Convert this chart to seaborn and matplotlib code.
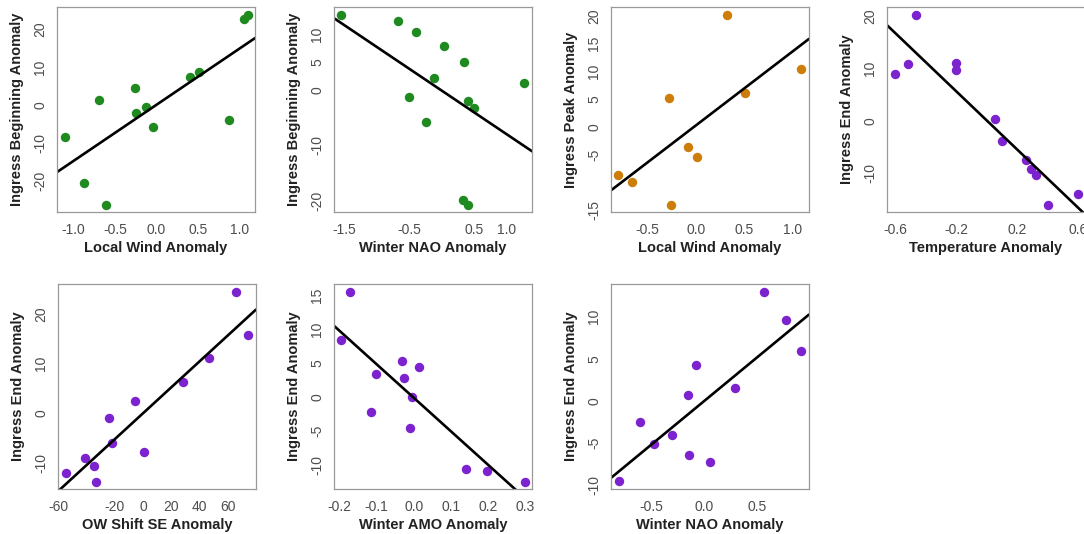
import matplotlib
matplotlib.use("Agg")
import matplotlib.pyplot as plt
import seaborn as sns

sns.set_style("white")
plt.rcParams["font.family"] = ["Liberation Sans", "DejaVu Sans"]

GREEN = "#1F8A1F"
ORANGE = "#CC7D0A"
PURPLE = "#7D22CF"

# Ingress beginning vs local wind
wind_begin_x = [-1.105, -0.879, -0.694, -0.605, -0.266, -0.246, -0.133, -0.044, 0.403, 0.512, 0.879, 1.052, 1.101]
wind_begin_y = [-8.4, -20.6, 1.3, -26.5, 4.4, -2.2, -0.6, -5.8, 7.5, 8.6, -4.0, 22.8, 23.9]

# Ingress beginning vs winter NAO
nao_begin_x = [-1.562, -0.676, -0.402, -0.510, -0.117, 0.034, -0.241, 0.350, 0.412, 0.510, 0.329, 0.412, 1.282]
nao_begin_y = [13.6, 12.5, 10.5, -1.2, 2.2, 7.9, -5.9, 5.1, -2.1, -3.2, -19.9, -20.8, 1.3]

# Ingress peak vs local wind
wind_peak_x = [-0.802, -0.660, -0.273, -0.256, -0.086, 0.014, 0.325, 0.508, 1.088]
wind_peak_y = [-8.7, -9.9, 5.2, -14.1, -3.7, -5.4, 20.2, 6.0, 10.5]

# Ingress end vs temperature
temp_end_x = [-0.607, -0.519, -0.464, -0.205, -0.205, 0.052, 0.100, 0.260, 0.293, 0.324, 0.400, 0.598]
temp_end_y = [8.9, 10.8, 20.2, 11.0, 9.6, 0.3, -3.9, -7.4, -9.2, -10.4, -16.1, -14.0]

# Ingress end vs OW shift SE
ow_end_x = [-54.8, -40.9, -34.7, -33.5, -23.9, -21.7, -5.9, 0.5, 28.3, 47.0, 65.9, 74.4]
ow_end_y = [-11.9, -9.0, -10.5, -13.7, -0.9, -5.9, 2.4, -7.8, 6.3, 11.1, 24.4, 15.8]

# Ingress end vs winter AMO
amo_end_x = [-0.196, -0.172, -0.116, -0.101, -0.032, -0.027, -0.010, -0.005, 0.013, 0.140, 0.196, 0.298]
amo_end_y = [8.4, 15.5, -2.1, 3.5, 5.4, 2.9, -4.5, 0.0, 4.4, -10.5, -10.9, -12.4]

# Ingress end vs winter NAO
nao_end_x = [-0.808, -0.610, -0.478, -0.305, -0.157, -0.142, -0.085, 0.050, 0.283, 0.560, 0.764, 0.912]
nao_end_y = [-9.6, -2.5, -5.1, -4.1, 0.7, -6.4, 4.2, -7.3, 1.5, 13.0, 9.6, 5.9]

panels = [
    dict(x=wind_begin_x, y=wind_begin_y, color=GREEN,
         xlabel="Local Wind Anomaly", ylabel="Ingress Beginning Anomaly",
         xlim=(-1.202, 1.189), ylim=(-28.3, 25.9),
         xticks=[-1.0, -0.5, 0.0, 0.5, 1.0], xtl=["-1.0", "-0.5", "0.0", "0.5", "1.0"],
         yticks=[-20, -10, 0, 10, 20], ytl=["-20", "-10", "0", "10", "20"],
         rect=(57, 7)),
    dict(x=nao_begin_x, y=nao_begin_y, color=GREEN,
         xlabel="Winter NAO Anomaly", ylabel="Ingress Beginning Anomaly",
         xlim=(-1.666, 1.401), ylim=(-22.1, 15.0),
         xticks=[-1.5, -1.0, -0.5, 0.0, 0.5, 1.0], xtl=["-1.5", "", "-0.5", "", "0.5", "1.0"],
         yticks=[-20, -15, -10, -5, 0, 5, 10], ytl=["-20", "", "-10", "", "0", "5", "10"],
         rect=(334, 7)),
    dict(x=wind_peak_x, y=wind_peak_y, color=ORANGE,
         xlabel="Local Wind Anomaly", ylabel="Ingress Peak Anomaly",
         xlim=(-0.878, 1.171), ylim=(-15.4, 21.6),
         xticks=[-0.5, 0.0, 0.5, 1.0], xtl=["-0.5", "0.0", "0.5", "1.0"],
         yticks=[-15, -10, -5, 0, 5, 10, 15, 20], ytl=["-15", "", "-5", "0", "5", "10", "15", "20"],
         rect=(611, 7)),
    dict(x=temp_end_x, y=temp_end_y, color=PURPLE,
         xlabel="Temperature Anomaly", ylabel="Ingress End Anomaly",
         xlim=(-0.657, 0.646), ylim=(-17.4, 21.7),
         xticks=[-0.6, -0.4, -0.2, 0.0, 0.2, 0.4, 0.6], xtl=["-0.6", "", "-0.2", "", "0.2", "", "0.6"],
         yticks=[-10, 0, 10, 20], ytl=["-10", "0", "10", "20"],
         rect=(887, 7)),
    dict(x=ow_end_x, y=ow_end_y, color=PURPLE,
         xlabel="OW Shift SE Anomaly", ylabel="Ingress End Anomaly",
         xlim=(-60.2, 80.1), ylim=(-15.2, 26.0),
         xticks=[-60, -40, -20, 0, 20, 40, 60], xtl=["-60", "", "-20", "0", "20", "40", "60"],
         yticks=[-10, 0, 10, 20], ytl=["-10", "0", "10", "20"],
         rect=(58, 284)),
    dict(x=amo_end_x, y=amo_end_y, color=PURPLE,
         xlabel="Winter AMO Anomaly", ylabel="Ingress End Anomaly",
         xlim=(-0.215, 0.318), ylim=(-13.5, 16.7),
         xticks=[-0.2, -0.1, 0.0, 0.1, 0.2, 0.3], xtl=["-0.2", "-0.1", "0.0", "0.1", "0.2", "0.3"],
         yticks=[-10, -5, 0, 5, 10, 15], ytl=["-10", "-5", "0", "5", "10", "15"],
         rect=(334, 284)),
    dict(x=nao_end_x, y=nao_end_y, color=PURPLE,
         xlabel="Winter NAO Anomaly", ylabel="Ingress End Anomaly",
         xlim=(-0.881, 0.984), ylim=(-10.5, 13.9),
         xticks=[-0.5, 0.0, 0.5], xtl=["-0.5", "0.0", "0.5"],
         yticks=[-10, -5, 0, 5, 10], ytl=["-10", "-5", "0", "5", "10"],
         rect=(611, 284)),
]

W, H = 1084, 534
AW, AH = 198, 205
fig = plt.figure(figsize=(W / 100, H / 100), dpi=100)

for p in panels:
    left, top = p["rect"]
    ax = fig.add_axes([left / W, (H - top - AH) / H, AW / W, AH / H])
    ax.set_xlim(p["xlim"])
    ax.set_ylim(p["ylim"])
    sns.regplot(x=p["x"], y=p["y"], ax=ax, ci=None, truncate=False,
                scatter_kws=dict(s=46, color=p["color"], alpha=1, linewidths=0),
                line_kws=dict(color="black", lw=1.9))
    ax.set_xlim(p["xlim"])
    ax.set_ylim(p["ylim"])
    ax.set_xticks(p["xticks"])
    ax.set_xticklabels(p["xtl"])
    ax.set_yticks(p["yticks"])
    ax.set_yticklabels(p["ytl"], rotation=90, va="center")
    ax.tick_params(axis="both", colors="#999999", labelcolor="#4d4d4d",
                   labelsize=10, length=4, width=0.9, direction="out")
    ax.tick_params(axis="x", pad=4)
    ax.tick_params(axis="y", pad=3)
    for s in ax.spines.values():
        s.set_color("#999999")
        s.set_linewidth(0.9)
    ax.set_xlabel(p["xlabel"], fontsize=10.5, fontweight="bold", color="#222222", labelpad=3)
    ax.set_ylabel(p["ylabel"], fontsize=10.5, fontweight="bold", color="#222222", labelpad=7)

fig.savefig("out.png", dpi=100)
